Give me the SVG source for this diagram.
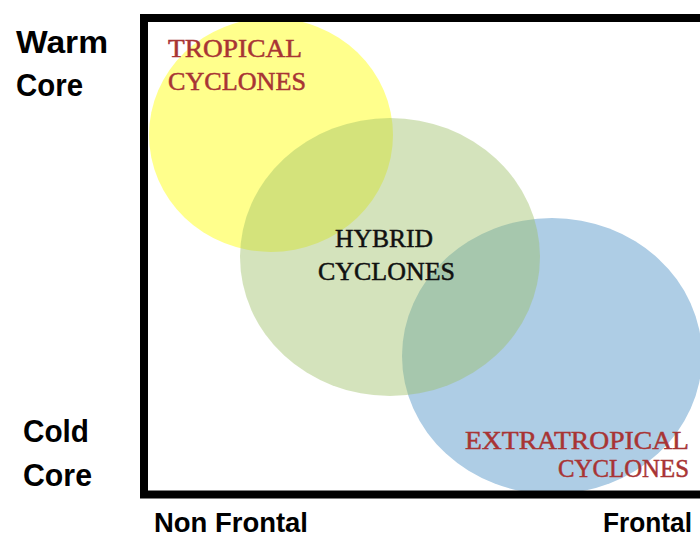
<svg xmlns="http://www.w3.org/2000/svg" width="700" height="540" viewBox="0 0 700 540">
<style>
.axis{font-family:"Liberation Sans",Arial,sans-serif;font-weight:bold;font-size:31px;fill:#000}
.bottom{font-size:28px}
.lbl{font-family:"Liberation Serif","Times New Roman",serif;font-size:26px;stroke-width:0.5}
.red{fill:#a83434;stroke:#a83434}
.blk{fill:#111;stroke:#111}
</style>
<defs>
<clipPath id="inner"><rect x="148" y="22" width="552" height="469"/></clipPath>
</defs>
<rect width="700" height="540" fill="#fff"/>
<g clip-path="url(#inner)">
<g id="tropical">
<ellipse cx="271" cy="135" rx="122" ry="117" fill="#ffff8c"/>
</g>
<g id="extratropical">
<ellipse cx="552" cy="356" rx="150" ry="138" fill="#aecde5"/>
</g>
<g id="hybrid">
<ellipse cx="390" cy="257" rx="150" ry="139" fill="#9cbf67" fill-opacity="0.44"/>
</g>
</g>
<path d="M700 18 H144 V494.5 H700" fill="none" stroke="#000" stroke-width="8"/>
<g id="tropical-label">
<text class="lbl red" x="168" y="57" textLength="134" lengthAdjust="spacingAndGlyphs">TROPICAL</text>
<text class="lbl red" x="168" y="90" textLength="138" lengthAdjust="spacingAndGlyphs">CYCLONES</text>
</g>
<g id="hybrid-label">
<text class="lbl blk" x="335" y="247" textLength="98" lengthAdjust="spacingAndGlyphs">HYBRID</text>
<text class="lbl blk" x="318" y="280" textLength="137" lengthAdjust="spacingAndGlyphs">CYCLONES</text>
</g>
<g id="extratropical-label">
<text class="lbl red" x="465" y="449" textLength="224" lengthAdjust="spacingAndGlyphs">EXTRATROPICAL</text>
<text class="lbl red" x="558" y="477" textLength="131" lengthAdjust="spacingAndGlyphs">CYCLONES</text>
</g>
<g id="axis-labels">
<text class="axis" x="16" y="53" textLength="92" lengthAdjust="spacingAndGlyphs">Warm</text>
<text class="axis" x="16" y="96" textLength="67" lengthAdjust="spacingAndGlyphs">Core</text>
<text class="axis" x="23" y="442" textLength="66" lengthAdjust="spacingAndGlyphs">Cold</text>
<text class="axis" x="23" y="486" textLength="69" lengthAdjust="spacingAndGlyphs">Core</text>
<text class="axis bottom" x="154" y="532" textLength="154" lengthAdjust="spacingAndGlyphs">Non Frontal</text>
<text class="axis bottom" x="603" y="532" textLength="89" lengthAdjust="spacingAndGlyphs">Frontal</text>
</g>
</svg>
